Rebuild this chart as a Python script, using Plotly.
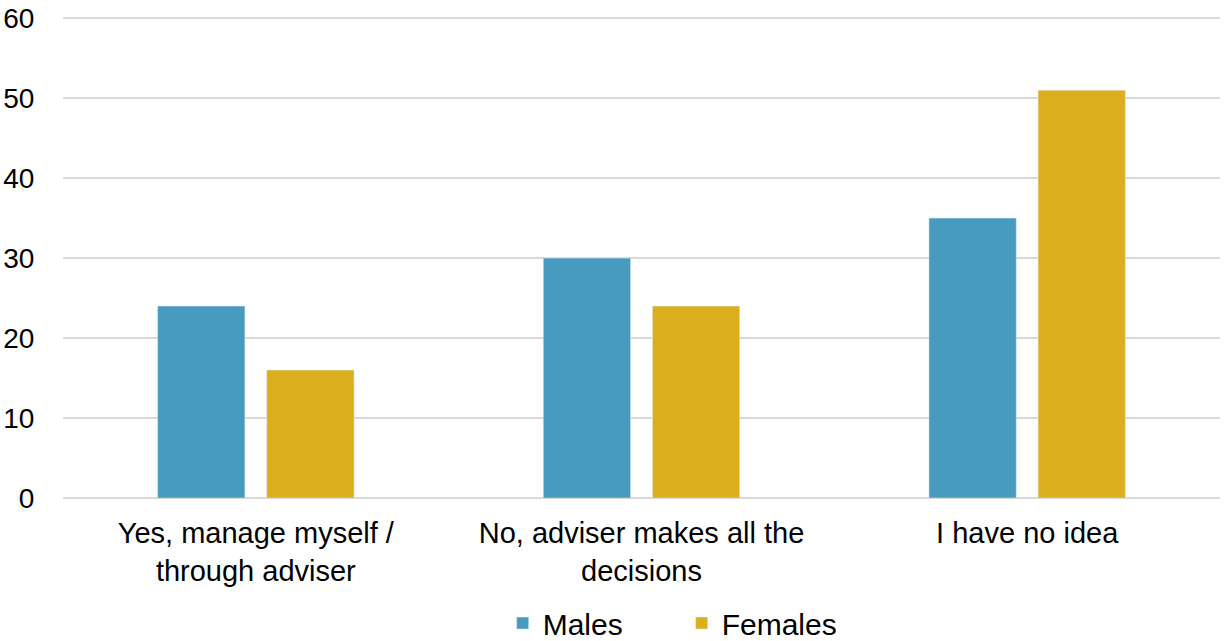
import plotly.graph_objects as go

categories = ["Yes, manage myself /<br>through adviser", "No, adviser makes all the<br>decisions", "I have no idea"]
males = [24, 30, 35]
females = [16, 24, 51]
y_ticks = [0, 10, 20, 30, 40, 50, 60]

fig = go.Figure()
fig.add_trace(go.Bar(name="Males", x=categories, y=males, marker=dict(color="#469BBE")))
fig.add_trace(go.Bar(name="Females", x=categories, y=females, marker=dict(color="#DAAE1C")))

fig.update_layout(
    width=1224, height=641,
    margin=dict(l=63, r=4, t=17, b=143, autoexpand=False),
    paper_bgcolor="white", plot_bgcolor="white",
    font=dict(family="Liberation Sans, Arial, sans-serif", size=28, color="#000000"),
    barmode="group", bargap=0.434, bargroupgap=0.2,
    showlegend=True,
    legend=dict(orientation="h", x=0.38, xanchor="left", y=-0.26, yanchor="middle",
                font=dict(size=30), entrywidth=134, entrywidthmode="pixels",
                itemwidth=30, tracegroupgap=0),
    xaxis=dict(showgrid=False, showline=False, ticks="outside", ticklen=9,
               tickcolor="rgba(0,0,0,0)", tickfont=dict(size=29)),
    yaxis=dict(range=[0, 60.15], tickvals=y_ticks, showgrid=True, gridcolor="#D9D9D9", gridwidth=2,
               zeroline=True, zerolinecolor="#D9D9D9", zerolinewidth=2,
               showline=False, ticks="outside", ticklen=22, tickcolor="rgba(0,0,0,0)",
               tickfont=dict(size=28)),
)
fig.write_html("out.html", config={"displayModeBar": False},
               post_script="document.body.style.margin='0';")
